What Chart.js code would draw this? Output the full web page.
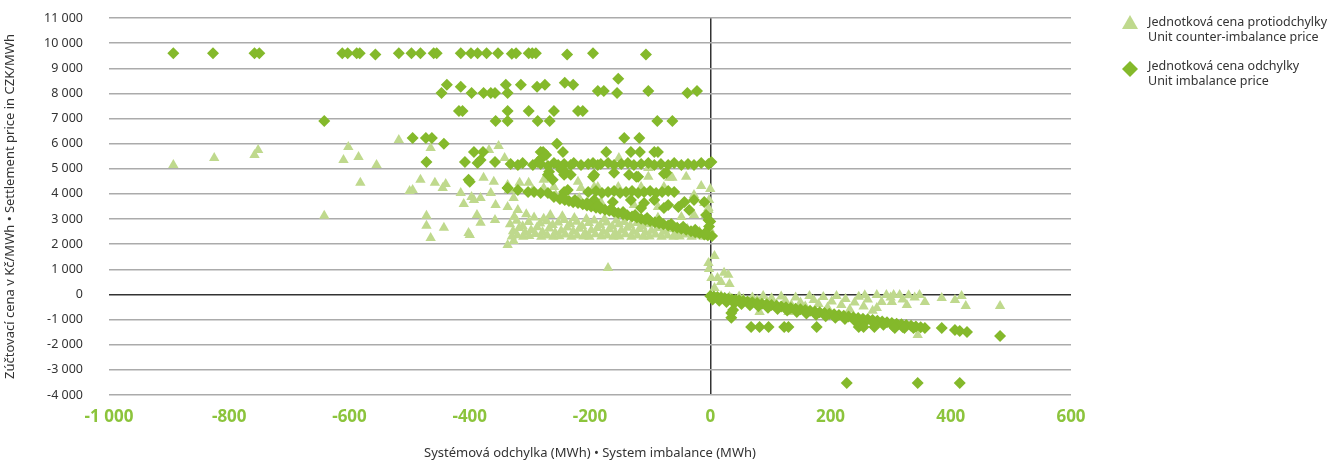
<!DOCTYPE html>
<html>
<head>
<meta charset="utf-8">
<script src="https://cdn.jsdelivr.net/npm/chart.js@4.4.1/dist/chart.umd.min.js"></script>
<style>
  html, body { margin: 0; padding: 0; background: #fff; }
  #wrap { position: relative; width: 1333px; height: 462px; }
</style>
</head>
<body>
<div id="wrap"><canvas id="chart" width="1333" height="462"></canvas></div>
<script>
// series names (two lines each)
const counterLabel = ["Jednotková cena protiodchylky", "Unit counter-imbalance price"];
const unitLabel = ["Jednotková cena odchylky", "Unit imbalance price"];
const xTitle = "Systémová odchylka (MWh) • System imbalance (MWh)";
const yTitle = "Zúčtovací cena v Kč/MWh • Settlement price in CZK/MWh";

// unit counter-imbalance price (triangles), [imbalance, price]
const counterScatter = [
  [-893,5150],[-825,5430],[-758,5550],[-752,5750],[-642,3130],[-610,5350],[-602,5870],[-585,5470],
  [-582,4440],[-555,5150],[-518,6150],[-500,4120],[-495,4160],[-482,4560],[-472,3130],[-472,2730],
  [-465,5830],[-465,2250],[-458,4440],[-445,4240],[-443,2650],[-440,4400],[-415,4040],[-410,3600],
  [-402,2450],[-400,2370],[-397,3880],[-393,3760],[-388,3160],[-382,3840],[-382,2850],[-377,4640],
  [-368,5750],[-365,4040],[-360,4480],[-358,2960],[-357,3560],[-352,5910],[-342,5430],[-337,4360],
  [-337,3480],[-337,1970],[-335,4160],[-327,2130],[-327,3840],[-320,3360],[-317,4440],[-302,4440],
  [-295,4160],[-277,4560],[-277,4240],[-260,4280],[-257,3960],[-220,4480],[-218,3840],[-215,4240],
  [-193,4280],[-187,4280],[-182,3680],[-170,1050],[-153,4280],[-152,5430],[-127,3560],[-115,4280],
  [-103,5030],[-103,4680],[-87,3480],[-87,3050],[-77,4280],[-68,4640],[-63,4640],[-48,3080],
  [-40,4680],[-27,3960],[-27,3160],[-15,4320],[-10,3640],[-7,3160],[-3,3440],[-2,3760],[-3,3360],
  [0,4200],[7,1530],[-3,1250],[-2,1010],[2,660],[12,660],[23,860],[30,780],[18,500],[32,420],[7,260]
];
const counterBand = [
  [-330,2310],[-328,2520],[-333,2790],[-326,3090],[-321,2360],[-318,2640],[-322,2930],[-311,2300],
  [-308,2470],[-312,2710],[-306,3190],[-301,2330],[-298,2560],[-302,2880],[-291,2410],[-288,2670],
  [-293,3060],[-281,2300],[-279,2490],[-283,2820],[-277,3010],[-271,2350],[-268,2620],[-272,2910],
  [-266,3160],[-261,2300],[-258,2460],[-262,2760],[-251,2320],[-248,2540],[-253,2860],[-246,3110],
  [-241,2390],[-238,2660],[-243,2960],[-231,2300],[-228,2510],[-233,2790],[-226,3040],[-221,2350],
  [-218,2610],[-222,2890],[-211,2310],[-208,2440],[-213,2710],[-206,3000],[-201,2300],[-198,2560],
  [-202,2840],[-191,2400],[-188,2640],[-193,2940],[-181,2310],[-178,2500],[-183,2760],[-176,2990],
  [-171,2350],[-168,2590],[-172,2860],[-161,2300],[-158,2450],[-163,2700],[-156,2940],[-151,2310],
  [-148,2550],[-152,2790],[-141,2400],[-138,2650],[-143,2880],[-131,2300],[-128,2500],[-133,2740],
  [-121,2350],[-118,2600],[-122,2840],[-111,2300],[-108,2460],[-113,2700],[-101,2310],[-98,2540],
  [-102,2790],[-91,2390],[-88,2640],[-81,2300],[-78,2500],[-83,2730],[-71,2350],[-68,2590],
  [-61,2300],[-58,2450],[-63,2650],[-51,2310],[-48,2540],[-41,2390],[-38,2600],[-31,2300],
  [-28,2450],[-21,2350],[-18,2500],[-11,2300],[-8,2440],[-2,2300],[1,2400],[-1,2600]
];
const counterRight = [
  [5,-80],[12,-150],[18,-60],[25,-200],[32,-100],[40,-250],[48,-80],[55,-180],[62,-300],[70,-120],
  [78,-220],[82,-700],[88,-60],[95,-300],[102,-150],[110,-380],[118,-80],[125,-250],[130,-700],
  [135,-420],[142,-120],[150,-320],[158,-480],[165,-60],[172,-220],[180,-380],[188,-100],[195,-520],
  [202,-280],[210,-60],[218,-420],[225,-180],[232,-600],[240,-320],[247,-90],[255,-480],[257,-30],
  [262,-200],[270,-650],[277,-20],[277,-540],[285,-300],[293,-20],[300,-120],[302,-300],[305,-20],
  [315,-20],[320,-200],[327,-420],[330,-30],[340,-120],[345,-1610],[348,-20],[357,-300],[385,-140],
  [407,-220],[418,-60],[425,-460],[482,-460]
];

// unit imbalance price (diamonds), [imbalance, price]
const unitHigh = [
  [-893,9600],[-827,9600],[-758,9600],[-750,9600],[-612,9600],[-603,9600],[-588,9600],[-583,9600],
  [-557,9550],[-518,9600],[-497,9600],[-482,9600],[-460,9600],[-455,9600],[-415,9600],[-398,9600],
  [-387,9600],[-372,9600],[-353,9600],[-330,9580],[-323,9600],[-302,9600],[-296,9600],[-290,9600],
  [-238,9550],[-195,9600],[-107,9550],
  [-447,8020],[-438,8340],[-415,8260],[-397,8020],[-377,8020],[-365,8020],[-358,8020],[-340,8340],
  [-337,8020],[-315,8340],[-288,8260],[-275,8340],[-242,8420],[-228,8340],[-187,8100],[-177,8100],
  [-155,8020],[-153,8580],[-103,8100],[-38,8020],[-22,8100],
  [-642,6900],[-418,7300],[-412,7300],[-337,7300],[-302,7300],[-260,7300],[-220,7300],[-212,7300],
  [-357,6900],[-337,6900],[-287,6900],[-267,6900],[-88,6900],[-63,6900],
  [-495,6230],[-473,6230],[-463,6230],[-443,6000],[-143,6230],[-118,6230],[-255,6000],
  [-393,5670],[-378,5670],[-282,5670],[-278,5670],[-245,5670],[-173,5670],[-132,5670],[-117,5670],
  [-93,5670],[-87,5670],[-280,5430],[-273,5550],
  [-472,5270],[-408,5270],[-387,5230],[-382,5350],[-358,5270],[-402,4560],[-400,4480],[-337,4240]
];
const unitMid = [
  [-332,5190],[-320,5150],[-312,5230],[-295,5150],[-287,5270],[-282,5190],[-270,5110],[-260,5230],
  [-253,5150],[-248,5070],[-243,5190],[-232,5150],[-227,5230],[-215,5150],[-203,5190],[-195,5230],
  [-187,5150],[-182,5190],[-170,5230],[-160,5150],[-148,5190],[-137,5230],[-127,5150],[-115,5190],
  [-103,5230],[-93,5150],[-82,5190],[-70,5150],[-60,5230],[-48,5150],[-37,5190],[-27,5150],
  [-15,5230],[-3,5190],[2,5270],
  [-270,4760],[-268,4880],[-262,4560],[-248,4960],[-243,4760],[-240,4840],[-232,4760],[-193,4760],
  [-195,4680],[-160,4840],[-135,4760],[-123,4680],[-120,4680],[-77,4800],[-73,4840],
  [-203,4080],[-190,4120],[-180,4040],[-170,4080],[-160,4120],[-150,4040],[-140,4080],[-130,4120],
  [-120,4040],[-110,4080],[-100,4120],[-90,4040],[-80,4080],[-70,4120],[-60,4080],
  [-237,4160],[-243,4080],[-193,3760],[-162,3680],[-132,3760],[-115,3440],[-110,3640],[-93,3760],
  [-77,3440],[-70,3560],[-53,3480],[-43,3680],[-35,3360],[-27,3760],[-10,3680],[-7,3160],[-3,2960],
  [0,2900],[-2,2700]
];
const unitSlope = [
  [-337,4240],[-320,4160],[-303,4080],[-293,4080],[-282,4040],[-270,4040],[-260,3880],[-250,3800],
  [-242,3760],[-235,3720],[-228,3670],[-220,3640],[-212,3590],[-205,3540],[-198,3500],[-190,3450],
  [-183,3410],[-175,3370],[-168,3330],[-160,3280],[-153,3240],[-145,3190],[-138,3150],[-130,3100],
  [-122,3060],[-115,3010],[-108,2970],[-100,2920],[-92,2870],[-85,2830],[-78,2790],[-70,2740],
  [-62,2700],[-55,2650],[-48,2610],[-40,2570],[-32,2520],[-25,2480],[-18,2440],[-10,2390],
  [-4,2360],[3,2330],
  [-245,3870],[-225,3760],[-205,3640],[-185,3520],[-165,3400],[-145,3280],[-125,3160],[-105,3040],
  [-85,2920],[-65,2800],[-45,2690],[-25,2570],[-8,2460]
];
const unitRight = [
  [0,-60],[6,-81],[12,-103],[18,-124],[24,-145],[30,-167],[36,-188],[42,-209],[48,-230],[55,-255],
  [62,-280],[70,-309],[78,-337],[86,-365],[94,-394],[102,-422],[110,-451],[118,-479],[126,-507],
  [134,-536],[142,-564],[150,-593],[158,-621],[166,-649],[174,-678],[182,-706],[190,-735],[198,-763],
  [206,-791],[214,-820],[222,-848],[230,-877],[238,-905],[246,-933],[254,-962],[262,-990],[270,-1019],
  [278,-1047],[286,-1075],[294,-1104],[302,-1132],[310,-1161],[318,-1189],[326,-1217],[334,-1246],
  [342,-1274],[350,-1303],
  [4,-200],[15,-250],[27,-300],[40,-350],[52,-380],[66,-430],[80,-470],[96,-530],[112,-580],
  [128,-640],[144,-700],[160,-760],[176,-810],[192,-870],[208,-930],[224,-980],[240,-1040],
  [256,-1100],[272,-1150],[288,-1200],[304,-1250],[320,-1290],
  [35,-740],[35,-930],[38,-620],[68,-1290],[82,-1290],[97,-1290],[123,-1290],[130,-1290],
  [177,-1290],[247,-1290],[255,-1290],[273,-1290],[307,-1330],[323,-1330],[338,-1330],[357,-1330],
  [385,-1330],[407,-1410],[415,-1450],[427,-1490],[482,-1650],[227,-3520],[345,-3520],[415,-3520]
];

const counterColor = "#bfd98d";
const unitColor = "#84b92b";
const toPoints = arr => arr.map(p => ({ x: p[0], y: p[1] }));

function fmt(v) {
  const s = Math.abs(v).toString().replace(/\B(?=(\d{3})+(?!\d))/g, " ");
  return (v < 0 ? "-" : "") + s;
}

// legend drawn by hand, two-line labels
const sideLegend = {
  id: "sideLegend",
  afterDraw(chart) {
    const ctx = chart.ctx;
    ctx.save();
    ctx.font = "12.5px 'Noto Sans', sans-serif";
    ctx.textBaseline = "middle";
    // triangle
    ctx.fillStyle = counterColor;
    ctx.beginPath();
    ctx.moveTo(1130, 15); ctx.lineTo(1138, 29); ctx.lineTo(1122, 29); ctx.closePath();
    ctx.fill();
    // diamond
    ctx.fillStyle = unitColor;
    ctx.beginPath();
    ctx.moveTo(1130, 61); ctx.lineTo(1138, 69); ctx.lineTo(1130, 77); ctx.lineTo(1122, 69); ctx.closePath();
    ctx.fill();
    ctx.fillStyle = "#333";
    ctx.fillText(counterLabel[0], 1148, 22);
    ctx.fillText(counterLabel[1], 1148, 37);
    ctx.fillText(unitLabel[0], 1148, 66);
    ctx.fillText(unitLabel[1], 1148, 81);
    ctx.restore();
  }
};

new Chart(document.getElementById("chart"), {
  type: "scatter",
  data: {
    datasets: [
      {
        label: unitLabel.join(" "),
        data: toPoints([...unitHigh, ...unitMid, ...unitSlope, ...unitRight]),
        pointStyle: "rectRot",
        pointRadius: 6,
        backgroundColor: unitColor,
        borderColor: unitColor,
        borderWidth: 0,
        order: 0
      },
      {
        label: counterLabel.join(" "),
        data: toPoints([...counterScatter, ...counterBand, ...counterRight]),
        pointStyle: "triangle",
        pointRadius: 6,
        backgroundColor: counterColor,
        borderColor: counterColor,
        borderWidth: 0,
        order: 1
      }
    ]
  },
  options: {
    responsive: false,
    animation: false,
    layout: { padding: { left: 0, right: 262, top: 18, bottom: 0 } },
    plugins: { legend: { display: false }, tooltip: { enabled: false } },
    scales: {
      x: {
        min: -1000, max: 600,
        afterFit(scale) { scale.height = 67; },
        border: { display: false },
        grid: {
          drawTicks: false,
          lineWidth: 1.5,
          color: c => (c.tick && c.tick.value === 0 ? "#333" : "rgba(0,0,0,0)")
        },
        ticks: {
          stepSize: 200,
          padding: 12,
          color: "#8cc43c",
          font: { family: "'Noto Sans', sans-serif", size: 17, weight: "bold" },
          callback: v => fmt(v)
        },
        title: {
          display: true,
          text: xTitle,
          color: "#333",
          font: { family: "'Noto Sans', sans-serif", size: 13 },
          padding: { top: 0, bottom: 1 }
        }
      },
      y: {
        min: -4000, max: 11000,
        afterFit(scale) {
          scale.width = 109;
          scale.paddingTop = 0;
          scale.paddingBottom = 0;
        },
        border: { display: false },
        grid: {
          drawTicks: false,
          lineWidth: 1.5,
          color: c => (c.tick && c.tick.value === 0 ? "#333" : "#ababab")
        },
        ticks: {
          stepSize: 1000,
          padding: 26,
          color: "#333",
          font: { family: "'Noto Sans', sans-serif", size: 12.5 },
          callback: v => fmt(v)
        },
        title: {
          display: true,
          text: yTitle,
          color: "#333",
          font: { family: "'Noto Sans', sans-serif", size: 13 },
          padding: { top: 2, bottom: 0 }
        }
      }
    }
  },
  plugins: [sideLegend]
});
</script>
</body>
</html>
